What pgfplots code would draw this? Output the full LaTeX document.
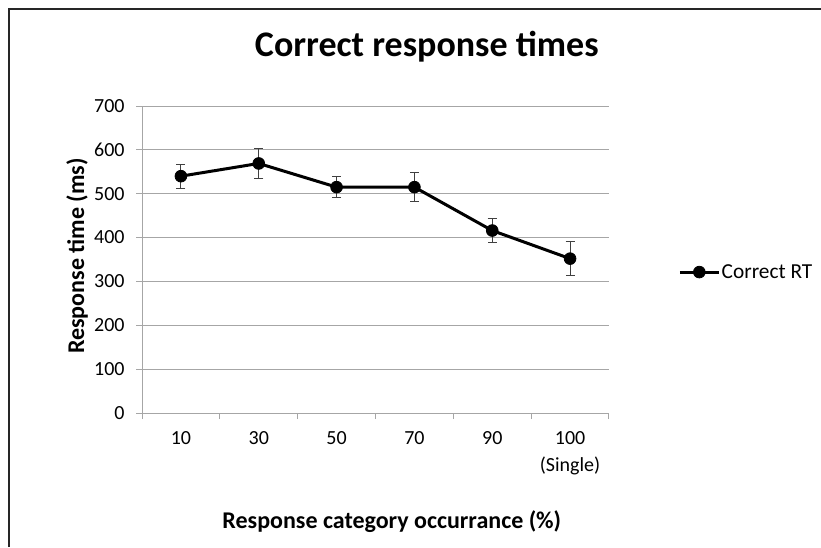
\documentclass[border=0pt]{standalone}
\usepackage{fontspec}
\setmainfont{Carlito}
\usepackage{pgfplots}
\pgfplotsset{compat=1.18}
\definecolor{gridgray}{HTML}{A6A6A6}
\definecolor{errgray}{HTML}{404040}

\begin{document}
\begin{tikzpicture}
\useasboundingbox (0,0) rectangle (615.75pt,410.25pt);
% chart frame (left and top edges visible)
\draw[line width=0.9pt, black!85] (6.75pt,0pt) -- (6.75pt,403.5pt) -- (615.75pt,403.5pt);
\begin{axis}[
    at={(106.5pt,100.5pt)}, anchor=south west,
    scale only axis, width=350.25pt, height=230.25pt,
    xmin=-0.5, xmax=5.5, ymin=0, ymax=700,
    ytick={0,100,...,700},
    xtick={0,...,5},
    xticklabels={10,30,50,70,90,{100\\(Single)}},
    xticklabel style={align=center, yshift=-6pt, font=\fontsize{15}{20}\selectfont},
    yticklabel style={xshift=-5pt},
    minor xtick={-0.5,0.5,...,5.5},
    major x tick style={draw=none},
    tick align=outside,
    major tick length=4.5pt, minor tick length=4.5pt,
    tick style={gridgray, line width=0.75pt},
    axis x line*=bottom, axis y line*=left,
    axis line style={gridgray, line width=0.75pt},
    ymajorgrids,
    major grid style={gridgray, line width=0.75pt},
    tick label style={font=\fontsize{15}{20}\selectfont},
    /pgf/number format/assume math mode=true,
    title={Correct response times},
    title style={font=\bfseries\fontsize{27}{30}\selectfont, at={(axis description cs:0.610,1.166)}, anchor=center},
    xlabel={Response category occurrance (\%)},
    xlabel style={font=\bfseries\fontsize{18}{21}\selectfont, at={(axis description cs:0.535,-0.355)}, anchor=center},
    ylabel={Response time (ms)},
    ylabel style={font=\bfseries\fontsize{18}{21}\selectfont, at={(axis description cs:-0.139,0.511)}, anchor=center},
    legend style={at={(1.148,0.459)}, anchor=west, draw=none, fill=none,
        font=\fontsize{16}{19}\selectfont, inner sep=0pt,
        nodes={inner sep=1pt},
        /tikz/every even column/.append style={column sep=0pt}},
    legend image code/.code={
        \draw[mark repeat=2, mark phase=2, #1] plot coordinates {(0pt,0pt) (14.6pt,0pt) (29.25pt,0pt)};
    },
]
\addplot[black, line width=2.25pt, mark=*, mark size=4.4pt, mark options={solid, line width=0.6pt},
    error bars/.cd, y dir=both, y explicit,
    error bar style={line width=0.75pt, errgray},
    error mark options={rotate=90, mark size=3.4pt, line width=0.75pt, errgray}]
    table[x=x, y=y, y error=e] {
x y e
0 540 27
1 569 35
2 515 24
3 515 33
4 416 28
5 352 39
};
\addlegendentry{Correct RT}
\end{axis}
\end{tikzpicture}
\end{document}
